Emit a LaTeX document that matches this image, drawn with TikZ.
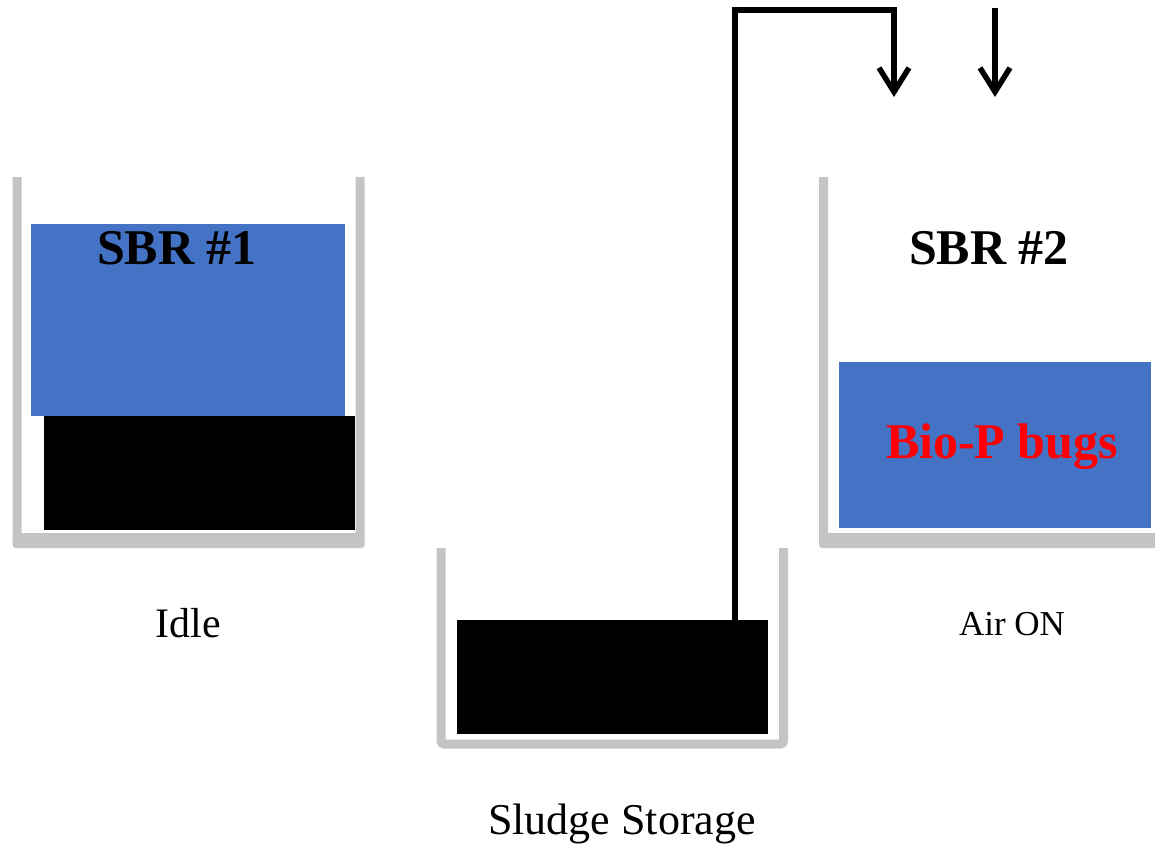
\documentclass[tikz,border=0pt]{standalone}
\usepackage{fontspec}
\setmainfont{Liberation Serif}
\usetikzlibrary{arrows.meta}
\definecolor{wallgray}{HTML}{C4C4C4}
\definecolor{water}{HTML}{4472C4}
\definecolor{bugred}{HTML}{FF0000}
\tikzset{
  wall/.style={draw=wallgray, line width=9pt, rounded corners=3pt},
  floor/.style={fill=wallgray, rounded corners=3pt},
  liquid/.style={fill=water, inner sep=0pt, anchor=north west},
  sludgebox/.style={fill=black, inner sep=0pt, anchor=north west},
  pipe/.style={draw=black, line width=5.5pt, line join=miter},
  flowarrow/.style={pipe, -{Straight Barb[length=24pt, width=30pt]}},
  title/.style={font=\fontsize{50}{60}\selectfont\bfseries, anchor=base},
  caption/.style={font=\fontsize{42}{50}\selectfont, anchor=base},
}
\begin{document}
\begin{tikzpicture}[x=1pt, y=-1pt]
\useasboundingbox (0,0) rectangle (1155,846);

% --- SBR #1 (idle) ---
\draw[wall] (17,177) -- (17,540) -- (360,540) -- (360,177);
\path[floor] (12.5,533) rectangle (364.5,548);
\node[liquid, minimum width=314pt, minimum height=192pt] (sbr1water) at (31,224) {};
\node[sludgebox, minimum width=311pt, minimum height=114pt] (sbr1sludge) at (44,416) {};
\node[title] (sbr1label) at (177,264) {SBR \#1};
\node[caption] (idle) at (188,637) {Idle};

% --- SBR #2 (aerated) ---
\draw[wall] (823.5,177) -- (823.5,540) -- (1170,540);
\path[floor] (819,533) rectangle (1175,548);
\node[liquid, minimum width=312pt, minimum height=166pt] (sbr2water) at (839,362) {};
\node[title] (sbr2label) at (989,264) {SBR \#2};
\node[title, text=bugred] (bugs) at (1002,458) {Bio-P bugs};
\node[caption, font=\fontsize{35}{42}\selectfont] (air) at (1012,635) {Air ON};

% --- Sludge storage tank ---
\draw[wall] (441,548) -- (441,744) -- (783.5,744) -- (783.5,548);
\node[sludgebox, minimum width=311pt, minimum height=114pt] (storage) at (457,620) {};
\node[caption, font=\fontsize{44}{52}\selectfont] (storagelabel) at (622,834) {Sludge Storage};

% --- Transfer pipe and air supply ---
\coordinate (riserTop) at (735,10);
\coordinate (pipeEnd) at (894,10);
\coordinate (sludgeIn) at (894,97);
\coordinate (airTop) at (995,8);
\coordinate (airIn) at (995,97);
\draw[flowarrow] (storage.north -| riserTop) -- (riserTop) -- (pipeEnd) -- (sludgeIn);
\draw[flowarrow] (airTop) -- (airIn);
\end{tikzpicture}
\end{document}
